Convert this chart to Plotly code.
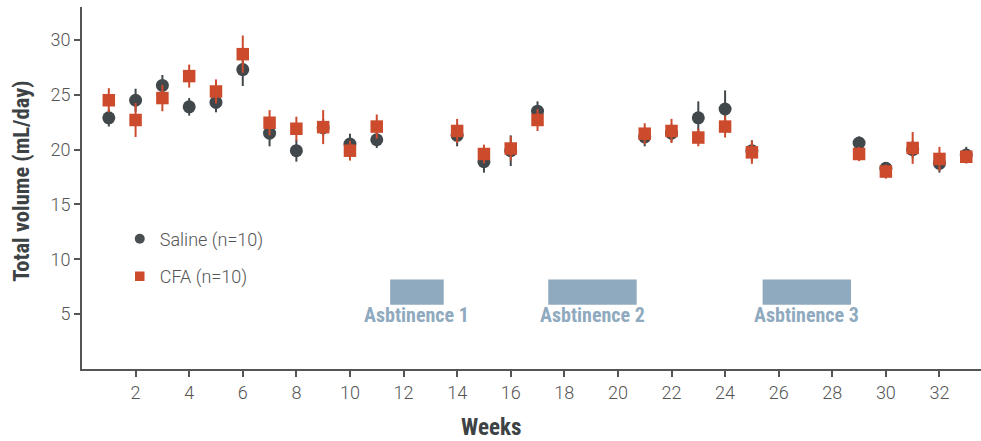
import plotly.graph_objects as go

# Weekly total intake, mean ± SEM
saline_weeks = [1, 2, 3, 4, 5, 6, 7, 8, 9, 10, 11, 14, 15, 16, 17, 21, 22, 23, 24, 25, 29, 30, 31, 32, 33]
saline_mean = [22.9, 24.5, 25.85, 23.9, 24.3, 27.3, 21.5, 19.9, 22.0, 20.5, 20.9, 21.3, 18.9, 19.9, 23.5,
               21.15, 21.5, 22.9, 23.7, 19.9, 20.6, 18.3, 20.0, 18.75, 19.5]
saline_sem = [0.8, 1.05, 0.95, 0.8, 0.9, 1.5, 1.2, 1.0, 0.8, 0.95, 0.75, 1.0, 1.0, 1.4, 0.9,
              0.85, 0.8, 1.5, 1.7, 0.95, 0.6, 0.5, 0.8, 0.85, 0.75]

cfa_weeks = [1, 2, 3, 4, 5, 6, 7, 8, 9, 10, 11, 14, 15, 16, 17, 21, 22, 23, 24, 25, 29, 30, 31, 32, 33]
cfa_mean = [24.5, 22.7, 24.7, 26.7, 25.3, 28.7, 22.45, 21.9, 22.05, 19.9, 22.1, 21.7, 19.6, 20.1, 22.7,
            21.45, 21.7, 21.1, 22.1, 19.75, 19.6, 18.0, 20.15, 19.15, 19.35]
cfa_sem = [1.1, 1.55, 1.2, 1.05, 1.1, 1.7, 1.15, 1.1, 1.55, 0.9, 1.1, 1.1, 0.85, 1.1, 1.0,
           0.95, 1.1, 0.8, 1.0, 1.05, 0.65, 0.65, 1.45, 1.1, 0.6]

# Abstinence periods (start week, end week, label)
abst_start = [11.5, 17.4, 25.4]
abst_end = [13.5, 20.7, 28.7]
abst_labels = ["Asbtinence 1", "Asbtinence 2", "Asbtinence 3"]
abst_band = [5.85, 8.15]

x_ticks = list(range(2, 33, 2))
y_ticks = [5, 10, 15, 20, 25, 30]

SALINE = "#41484b"
CFA = "#cc4b2d"
ABST = "#8faabe"
AXIS = "#555555"
TITLE = "#3d4345"
BOLD_FAMILY = "'Roboto Condensed', 'Liberation Sans Narrow', Roboto, sans-serif"

fig = go.Figure()

fig.add_trace(go.Scatter(
    x=saline_weeks, y=saline_mean, mode="markers", name="Saline (n=10)", showlegend=False,
    marker=dict(symbol="circle", size=13, color=SALINE),
    error_y=dict(type="data", array=saline_sem, color=SALINE, thickness=2, width=0),
))
fig.add_trace(go.Scatter(
    x=cfa_weeks, y=cfa_mean, mode="markers", name="CFA (n=10)", showlegend=False,
    marker=dict(symbol="square", size=12.5, color=CFA),
    error_y=dict(type="data", array=cfa_sem, color=CFA, thickness=2, width=0),
))

# legend entries with smaller key symbols
fig.add_trace(go.Scatter(x=[None], y=[None], mode="markers", name="Saline (n=10)",
                         legendgroup="saline", marker=dict(symbol="circle", size=10, color="#4a4f52")))
fig.add_trace(go.Scatter(x=[None], y=[None], mode="markers", name="CFA (n=10)",
                         legendgroup="cfa", marker=dict(symbol="square", size=9.5, color=CFA)))

for s, e, lab in zip(abst_start, abst_end, abst_labels):
    fig.add_shape(type="rect", x0=s, x1=e, y0=abst_band[0], y1=abst_band[1],
                  xref="x", yref="y", fillcolor=ABST, line=dict(width=0), layer="below")
    fig.add_annotation(x=(s + e) / 2, y=abst_band[0], yshift=-10, text=lab, showarrow=False,
                       xref="x", yref="y", yanchor="middle",
                       font=dict(family=BOLD_FAMILY, size=20, color=ABST, weight="bold"))

fig.update_layout(
    width=981, height=441,
    margin=dict(l=82, r=0, t=7, b=72),
    plot_bgcolor="white", paper_bgcolor="white",
    showlegend=True,
    legend=dict(x=0.042, y=0.41, xanchor="left", yanchor="top",
                bgcolor="rgba(0,0,0,0)", tracegroupgap=11,
                font=dict(family="Roboto", size=18, color=AXIS, weight=300)),
    xaxis=dict(range=[0, 33.55], tickvals=x_ticks, showgrid=False, zeroline=False,
               showline=True, linecolor=AXIS, linewidth=2, ticks="outside", ticklen=6,
               tickwidth=2, tickcolor=AXIS,
               tickfont=dict(family="Roboto", size=18, color=AXIS, weight=300)),
    yaxis=dict(range=[0, 33], tickvals=y_ticks, showgrid=False, zeroline=False,
               showline=True, linecolor=AXIS, linewidth=2, ticks="outside", ticklen=6,
               tickwidth=2, tickcolor=AXIS,
               tickfont=dict(family="Roboto", size=18, color=AXIS, weight=300)),
)

fig.add_annotation(x=0.455, y=-0.162, xref="paper", yref="paper", text="Weeks", showarrow=False,
                   yanchor="middle",
                   font=dict(family=BOLD_FAMILY, size=23, color=TITLE, weight="bold"))
fig.add_annotation(x=-0.068, y=0.52, xref="paper", yref="paper", text="Total volume (mL/day)",
                   showarrow=False, textangle=-90, xanchor="center", yanchor="middle",
                   font=dict(family=BOLD_FAMILY, size=22.5, color=TITLE, weight="bold"))

fig.write_html("out.html")
